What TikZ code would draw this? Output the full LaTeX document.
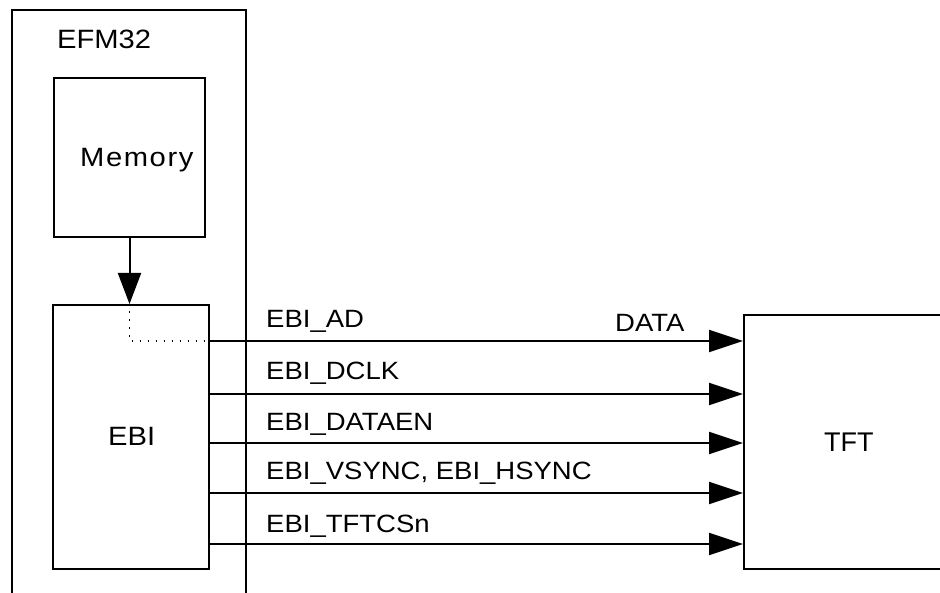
\documentclass[tikz,border=0pt]{standalone}
\usepackage{fontspec}
\setmainfont{Liberation Sans}
\newfontfamily\lblfont{Liberation Sans}[FakeStretch=1.1]
\newfontfamily\memfont{Liberation Sans}[FakeStretch=1.1,LetterSpace=6]
\usetikzlibrary{arrows.meta}
\begin{document}
\begin{tikzpicture}[x=1pt,y=-1pt,
  box/.style={draw,line width=2pt,inner sep=0},
  wire/.style={line width=2pt},
  sig/.style={wire,-{Triangle[length=34pt,width=22pt]}},
  lbl/.style={anchor=base west,inner sep=0,font=\lblfont\fontsize{25}{30}\selectfont},
  big/.style={anchor=base west,inner sep=0,font=\lblfont\fontsize{26.5}{32}\selectfont},
]
\useasboundingbox (0,0) rectangle (940,593);
% outer EFM32 frame (open at the bottom)
\coordinate (fbl) at (12,600);
\coordinate (ftl) at (12,10);
\coordinate (ftr) at (246,10);
\coordinate (fbr) at (246,600);
\draw[wire] (fbl) -- (ftl) -- (ftr) -- (fbr);
\node[big] (efm) at (57,49) {EFM32};

% blocks
\node[box,minimum width=151pt,minimum height=159pt] (mem) at (129.5,157.5) {};
\node[anchor=base west,inner sep=0,font=\memfont\fontsize{26.5}{32}\selectfont] (memlbl) at (80,167) {Memory};
\node[box,minimum width=156pt,minimum height=264pt] (ebi) at (131,437) {};
\node[big] (ebilbl) at (108,446) {EBI};
\node[box,minimum width=230pt,minimum height=254pt] (tft) at (859,442) {};
\node[anchor=base west,inner sep=0,font=\fontsize{27}{32}\selectfont] (tftlbl) at (824,451) {TFT};

% memory -> EBI
\draw[wire,-{Triangle[length=31pt,width=23pt]}] (mem.south) -- (mem.south |- ebi.north);

% dotted internal route
\coordinate (d1) at (129.5,311);
\coordinate (d2) at (129.5,341);
\coordinate (d3) at (205,341);
\draw[line width=1.6pt,dash pattern=on 1.6pt off 6.4pt] (d1) -- (d2) -- (d3);

% signals
\foreach \yy/\nm in {341/ad,394/dclk,443/den,493/sync,544/cs}{
  \draw[sig] (ebi.east |- 0,\yy) -- (tft.west |- 0,\yy);
}
\node[lbl] (lad) at (266,328) {EBI\_AD};
\node[lbl] (ldata) at (615,332) {DATA};
\node[lbl] (ldclk) at (266,380) {EBI\_DCLK};
\node[lbl] (lden) at (266,431) {EBI\_DATAEN};
\node[lbl] (lsync) at (266,479) {EBI\_VSYNC, EBI\_HSYNC};
\node[lbl] (lcs) at (266,532) {EBI\_TFTCSn};
\end{tikzpicture}
\end{document}
